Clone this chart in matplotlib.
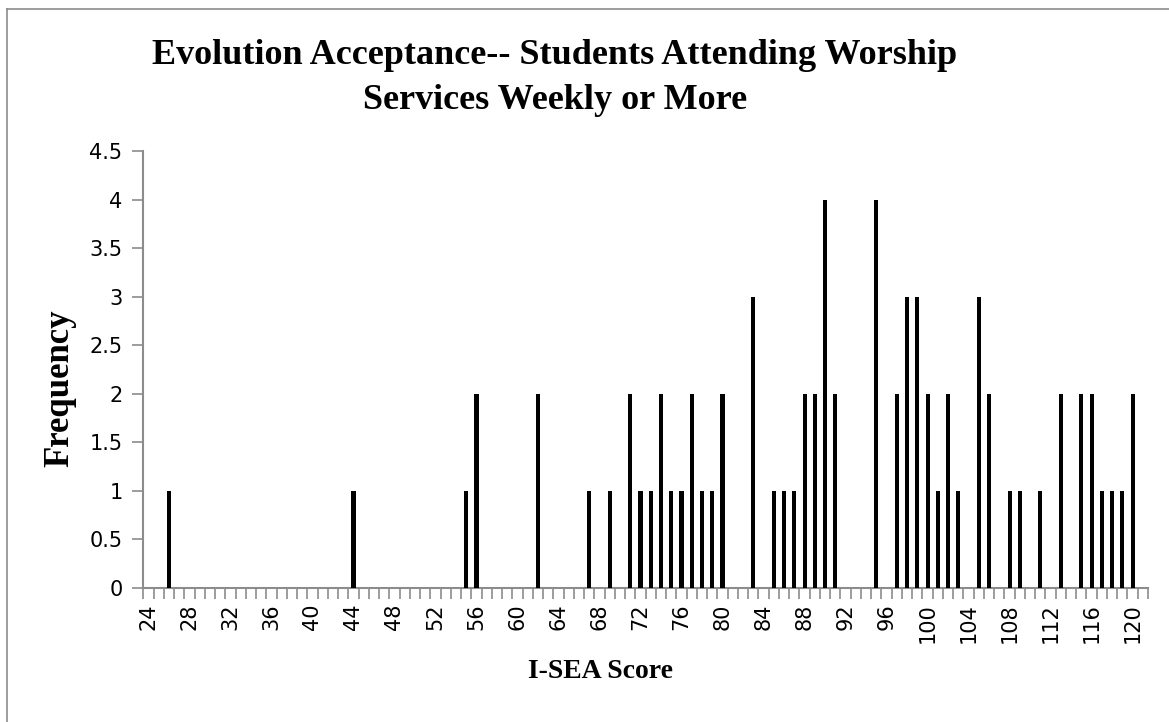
import matplotlib
matplotlib.use("Agg")
import matplotlib.pyplot as plt
from matplotlib.lines import Line2D
import numpy as np

# I-SEA score categories (24 .. 121) and frequency of each score
scores = list(range(24, 122))
frequency = [
    0, 0, 1, 0, 0, 0, 0, 0, 0, 0,   # 24-33
    0, 0, 0, 0, 0, 0, 0, 0, 0, 0,   # 34-43
    1, 0, 0, 0, 0, 0, 0, 0, 0, 0,   # 44-53
    0, 1, 2, 0, 0, 0, 0, 0, 2, 0,   # 54-63
    0, 0, 0, 1, 0, 1, 0, 2, 1, 1,   # 64-73
    2, 1, 1, 2, 1, 1, 2, 0, 0, 3,   # 74-83
    0, 1, 1, 1, 2, 2, 4, 2, 0, 0,   # 84-93
    0, 4, 0, 2, 3, 3, 2, 1, 2, 1,   # 94-103
    0, 3, 2, 0, 1, 1, 0, 1, 0, 2,   # 104-113
    0, 2, 2, 1, 1, 1, 2, 0,         # 114-121
]
label_every = 4
title = "Evolution Acceptance-- Students Attending Worship\nServices Weekly or More"
xlabel = "I-SEA Score"
ylabel = "Frequency"
yticks = [0, 0.5, 1, 1.5, 2, 2.5, 3, 3.5, 4, 4.5]

W, H = 1169, 722
fig = plt.figure(figsize=(W / 100, H / 100), dpi=100)
ax = fig.add_axes([143.3 / W, 1 - 588 / H, (1148 - 143.3) / W, (588 - 151) / H])

pos = np.arange(len(scores))
ax.bar(pos, frequency, width=0.4, color="black", zorder=3)

ax.set_xlim(-0.5, len(scores) - 0.5)
ax.set_ylim(0, 4.5)
ax.set_yticks(yticks)
ax.set_yticklabels([("%g" % v) for v in yticks], fontsize=15, family="DejaVu Sans")

lab_pos = [i for i, s in enumerate(scores) if (s - scores[0]) % label_every == 0]
ax.set_xticks(lab_pos)
ax.set_xticklabels([str(scores[i]) for i in lab_pos], rotation=90, fontsize=15,
                   family="DejaVu Sans")
ax.set_xticks(np.arange(len(scores) + 1) - 0.5, minor=True)

grey = "#8c8c8c"
ax.tick_params(axis="x", which="major", length=0, pad=11)
ax.tick_params(axis="x", which="minor", length=8, color=grey, width=1.2, direction="out")
ax.tick_params(axis="y", length=8, color=grey, width=1.2, direction="out", pad=7)

for s in ["top", "right"]:
    ax.spines[s].set_visible(False)
for s in ["left", "bottom"]:
    ax.spines[s].set_color(grey)
    ax.spines[s].set_linewidth(1.5)

fig.text(555 / W, 1 - 78 / H, title, ha="center", va="center", fontsize=26,
         fontweight="bold", family="Liberation Serif", linespacing=1.45)
fig.text(601 / W, 1 - 672 / H, xlabel, ha="center", va="center", fontsize=20,
         fontweight="bold", family="Liberation Serif")
fig.text(60 / W, 1 - 388 / H, ylabel, ha="center", va="center", fontsize=25,
         fontweight="bold", family="Liberation Serif", rotation=90)

# chart area border
fig.add_artist(Line2D([7 / W, 7 / W], [0, 1 - 9 / H], transform=fig.transFigure,
                      color=grey, lw=1.2))
fig.add_artist(Line2D([7 / W, 1], [1 - 9 / H, 1 - 9 / H], transform=fig.transFigure,
                      color=grey, lw=1.2))

fig.savefig("out.png", dpi=100)
